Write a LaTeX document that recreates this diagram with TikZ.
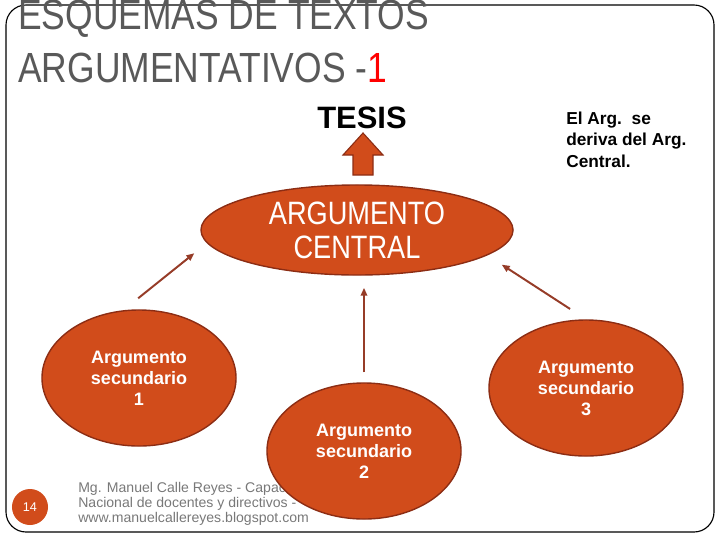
\documentclass[tikz,border=0pt]{standalone}
\usepackage{fontspec}
\setmainfont{Liberation Sans}
\newfontfamily\narrowfont[FakeStretch=0.84]{Liberation Sans}
\usetikzlibrary{shapes.geometric, arrows.meta}
\definecolor{argcol}{RGB}{209, 76, 27}
\definecolor{edgecol}{RGB}{140, 45, 20}
\definecolor{linkcol}{RGB}{150, 60, 40}
\definecolor{titlecol}{RGB}{89, 89, 89}
\definecolor{footcol}{RGB}{120, 120, 120}
\tikzset{
  argnode/.style={ellipse, draw=edgecol, line width=1pt, fill=argcol, text=white,
                  inner sep=0pt, align=center},
  secnode/.style={argnode, minimum width=4.85cm, minimum height=3.4cm,
                  font=\bfseries\fontsize{12.8}{15}\selectfont},
  plain/.style={inner sep=0pt},
  flow/.style={-{Triangle[length=2mm, width=1.6mm]}, draw=linkcol, line width=1.4pt},
  bigarrow/.style={fill=argcol, draw=edgecol, line width=0.8pt, line join=miter},
}

\begin{document}
\begin{tikzpicture}[x=0.025cm, y=-0.025cm]
  \useasboundingbox (0,0) rectangle (720,540);
  \clip (0,0) rectangle (720,540);
  \draw[line width=0.8pt, rounded corners=0.5cm] (6,5) rectangle (714,532);

  \node[plain, anchor=base west, text=titlecol, font=\narrowfont\fontsize{30}{36}\selectfont]
    (title1) at (18,29) {ESQUEMAS DE TEXTOS};
  \node[plain, anchor=base west, text=titlecol, font=\narrowfont\fontsize{30}{36}\selectfont]
    (title2) at (18,82) {ARGUMENTATIVOS -{\color{red}1}};

  \node[plain, anchor=north west, align=left, text=footcol, font=\fontsize{10}{10.7}\selectfont]
    (foot) at (78,482) {Mg. Manuel Calle Reyes - Capacitador\\Nacional de docentes y directivos -\\www.manuelcallereyes.blogspot.com};
  \node[circle, fill=argcol, minimum size=0.9cm, inner sep=0pt, text=white,
        font=\fontsize{9}{10}\selectfont] (page) at (30,507) {14};

  \node[plain, anchor=base, font=\bfseries\fontsize{22}{26}\selectfont] (tesis) at (362,128) {TESIS};
  \coordinate (upbase) at (363,175);
  \draw[bigarrow] (upbase) ++(-10,0) -- ++(0,-20) -- ++(-10,0) -- ++(20,-22)
    -- ++(20,22) -- ++(-10,0) -- ++(0,20) -- cycle;

  \node[argnode, minimum width=7.8cm, minimum height=2.25cm,
        font=\narrowfont\fontsize{23}{24}\selectfont] (central) at (357,230) {ARGUMENTO\\CENTRAL};

  \node[secnode] (sec1) at (139,378) {Argumento\\secundario\\1};
  \node[secnode] (sec2) at (364,451) {Argumento\\secundario\\2};
  \node[secnode] (sec3) at (586,388) {Argumento\\secundario\\3};

  \node[plain, anchor=north west, align=left, font=\bfseries\fontsize{12.3}{15}\selectfont]
    (note) at (566,112) {El Arg.\ \ se\\deriva del Arg.\\Central.};

  \draw[flow, shorten <=0.475cm, shorten >=0.4cm] (sec1.103) -- (central.185);
  \draw[flow, shorten <=0.25cm, shorten >=0.3cm] (sec2.north) -- (sec2.north |- central.south);
  \draw[flow, shorten <=0.475cm, shorten >=0.425cm] (sec3.north) -- (central.349);
\end{tikzpicture}
\end{document}
